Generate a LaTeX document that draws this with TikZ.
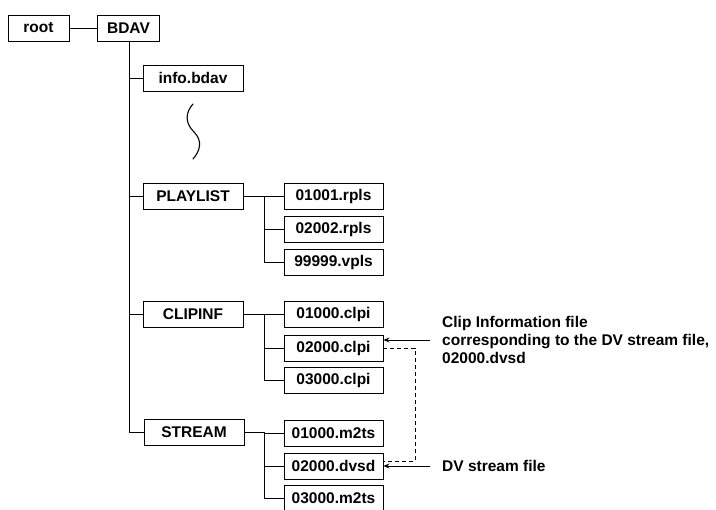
\documentclass[tikz,border=0pt]{standalone}
\usepackage{fontspec}
\setmainfont{Liberation Sans}
\usetikzlibrary{arrows.meta}
\begin{document}
\begin{tikzpicture}[x=1pt,y=-1pt,
  box/.style={draw, line width=0.9pt, minimum height=26pt, inner sep=0pt,
    font=\fontsize{15.5}{18}\selectfont\bfseries},
  dirbox/.style={box, minimum width=100pt},
  filebox/.style={box, minimum width=99pt},
  link/.style={line width=0.9pt},
  dlink/.style={line width=0.8pt, dash pattern=on 4pt off 3pt},
  arr/.style={line width=0.9pt, -{Stealth[length=6pt,width=5pt]}},
  note/.style={font=\fontsize{15.5}{18}\selectfont\bfseries, align=left, inner sep=0pt, anchor=west}]
\useasboundingbox (0,0) rectangle (716,510);

% top level
\node[box, minimum width=61pt] (root) at (38.5,28) {root};
\node[box, minimum width=62pt] (bdav) at (128.5,28) {BDAV};

% directories
\node[dirbox] (info) at (193,78) {info.bdav};
\node[dirbox] (play) at (193,196) {PLAYLIST};
\node[dirbox] (clip) at (193,314) {CLIPINF};
\node[dirbox] (strm) at (194,432) {STREAM};

% files
\node[filebox] (p1) at (333.5,196) {01001.rpls};
\node[filebox] (p2) at (333.5,229) {02002.rpls};
\node[filebox] (p3) at (333.5,262) {99999.vpls};
\node[filebox] (c1) at (333.5,314) {01000.clpi};
\node[filebox] (c2) at (333.5,348) {02000.clpi};
\node[filebox] (c3) at (333.5,380) {03000.clpi};
\node[filebox] (s1) at (333.5,433) {01000.m2ts};
\node[filebox] (s2) at (333.5,466) {02000.dvsd};
\node[filebox] (s3) at (333.5,498) {03000.m2ts};

% tree connectors
\draw[link] (root) -- (bdav);
\coordinate (tx) at (129,0);
\draw[link] (bdav.south -| tx) -- (tx |- strm.west) -- (strm.west);
\foreach \n in {info,play,clip}
  \draw[link] (tx |- \n.west) -- (\n.west);

\coordinate (sx) at (264,0);
\draw[link] (play.east) -- (sx |- play.east) -- (sx |- p3.west) -- (p3.west);
\draw[link] (sx |- p2.west) -- (p2.west);
\draw[link] (sx |- p1.west) -- (p1.west);
\draw[link] (clip.east) -- (sx |- clip.east) -- (sx |- c3.west) -- (c3.west);
\draw[link] (sx |- c2.west) -- (c2.west);
\draw[link] (sx |- c1.west) -- (c1.west);
\draw[link] (strm.east) -- (sx |- strm.east) -- (sx |- s3.west) -- (s3.west);
\draw[link] (sx |- s2.west) -- (s2.west);
\draw[link] (sx |- s1.west) -- (s1.west);

% squiggle
\draw[line width=1.1pt, line cap=round] (193,104) .. controls (185,113) and (185,123) .. (194,132)
  .. controls (203,141) and (200,151) .. (193,159);

% dashed link between clpi and dvsd
\coordinate (dx) at (415,0);
\draw[dlink] (c2.east) -- (dx |- c2.east) -- (dx |- 0,461) -- (s2.east |- 0,461);

% annotations
\node[note] (n1) at (442,340) {Clip Information file\\corresponding to the DV stream file,\\02000.dvsd};
\node[note] (n2) at (442,466) {DV stream file};
\coordinate (a1) at (430,340);
\coordinate (a2) at (430,466);
\draw[arr] (a1) -- (c2.east |- a1);
\draw[arr] (a2) -- (s2.east);
\end{tikzpicture}
\end{document}
